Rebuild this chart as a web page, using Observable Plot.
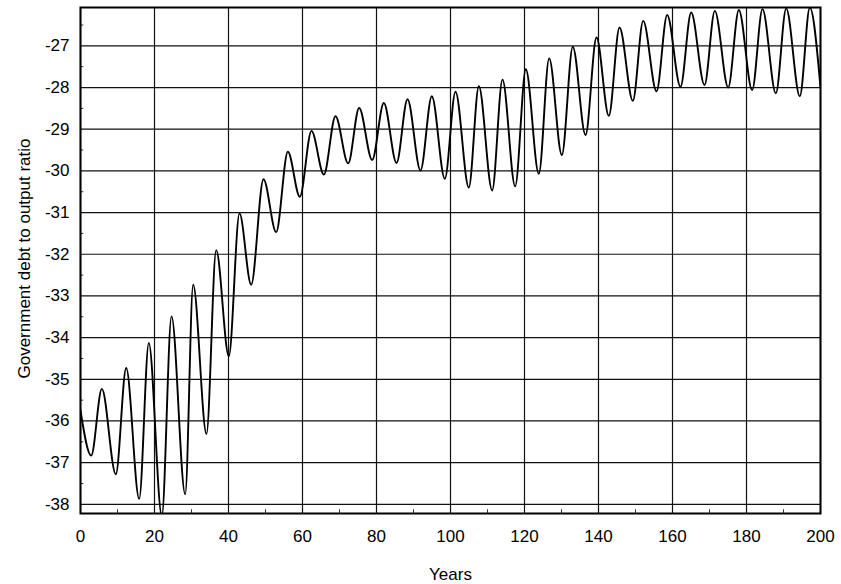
<!DOCTYPE html>
<html>
<head>
<meta charset="utf-8">
<script src="https://cdn.jsdelivr.net/npm/d3@7"></script>
<script src="https://cdn.jsdelivr.net/npm/@observablehq/plot@0.6"></script>
<style>
  html, body { margin: 0; padding: 0; background: #fff; }
  #chart svg { display: block; }
</style>
</head>
<body>
<div id="chart"></div>
<script>
// Years at which the curve turns (start, alternating troughs/peaks, end)
const years = [0, 2.9, 5.77, 9.55, 12.35, 15.86, 18.46, 21.98, 24.6, 28.3,
  30.45, 34.05, 36.67, 40.09, 42.97, 46.13, 49.46, 52.88, 56.04, 59.28,
  62.43, 65.77, 68.92, 72.34, 75.31, 78.83, 81.98, 85.41, 88.38, 91.89,
  94.95, 98.47, 101.35, 104.95, 107.66, 111.26, 114.05, 117.48, 120.36, 123.87,
  126.67, 130.09, 133.06, 136.49, 139.46, 142.79, 145.68, 149.28, 152.08, 155.68,
  158.56, 162.16, 165.05, 168.65, 171.44, 175.05, 177.93, 181.53, 184.32, 187.93,
  190.73, 194.41, 197.12, 200];
// Government debt to output ratio at those years
const ratio = [-35.75, -36.83, -35.23, -37.28, -34.73, -37.87, -34.13, -38.28, -33.49, -37.76,
  -32.73, -36.31, -31.9, -34.45, -31.02, -32.73, -30.2, -31.47, -29.54, -30.62,
  -29.04, -30.09, -28.69, -29.82, -28.49, -29.74, -28.37, -29.81, -28.28, -29.99,
  -28.21, -30.19, -28.1, -30.4, -27.97, -30.47, -27.81, -30.37, -27.56, -30.07,
  -27.3, -29.62, -27.02, -29.14, -26.8, -28.68, -26.56, -28.32, -26.4, -28.09,
  -26.26, -27.98, -26.2, -27.94, -26.16, -28.0, -26.14, -28.06, -26.12, -28.14,
  -26.1, -28.21, -26.08, -28.0];

const xTicks = [0, 20, 40, 60, 80, 100, 120, 140, 160, 180, 200];
const yTicks = [-38, -37, -36, -35, -34, -33, -32, -31, -30, -29, -28, -27];
const xMinor = [10, 30, 50, 70, 90, 110, 130, 150, 170, 190];
const yMinor = [-37.5, -36.5, -35.5, -34.5, -33.5, -32.5, -31.5, -30.5, -29.5, -28.5, -27.5, -26.5];
const xTitle = "Years";
const yTitle = "Government debt to output ratio";

const xDomain = [0, 200];
const yDomain = [-38.22, -26.08];

const data = years.map((t, i) => ({t, v: ratio[i]}));

const chart = Plot.plot({
  width: 841,
  height: 584,
  marginLeft: 80,
  marginRight: 21,
  marginTop: 7,
  marginBottom: 71,
  style: {
    fontFamily: "'Liberation Sans', Arial, sans-serif",
    fontSize: "17px",
    background: "#ffffff",
    color: "#000000"
  },
  x: {domain: xDomain, ticks: xTicks, tickSize: 0, tickPadding: 16, tickFormat: d => String(d), label: null},
  y: {domain: yDomain, ticks: yTicks, tickSize: 0, tickPadding: 11, tickFormat: d => String(d), label: null},
  marks: [
    Plot.gridX(xTicks, {stroke: "#111", strokeOpacity: 1, strokeWidth: 1.2}),
    Plot.gridY(yTicks, {stroke: "#111", strokeOpacity: 1, strokeWidth: 1.2}),
    Plot.ruleY(yMinor, {x1: xDomain[0], x2: xDomain[0] + 0.9, stroke: "#333", strokeWidth: 1}),
    Plot.ruleX(xMinor, {y1: yDomain[0], y2: yDomain[0] + 0.09, stroke: "#333", strokeWidth: 1}),
    Plot.line(data, {x: "t", y: "v", curve: "monotone-x", stroke: "#000", strokeWidth: 1.9, clip: true}),
    Plot.frame({stroke: "#000", strokeWidth: 2}),
    Plot.text([xTitle], {frameAnchor: "bottom", dy: 61, textAnchor: "middle", lineAnchor: "middle", fontSize: 17, fill: "#000"}),
    Plot.text([yTitle], {frameAnchor: "left", dx: -56, dy: -2, rotate: -90, textAnchor: "middle", lineAnchor: "middle", fontSize: 17, fill: "#000"})
  ]
});

document.getElementById("chart").appendChild(chart);
</script>
</body>
</html>
